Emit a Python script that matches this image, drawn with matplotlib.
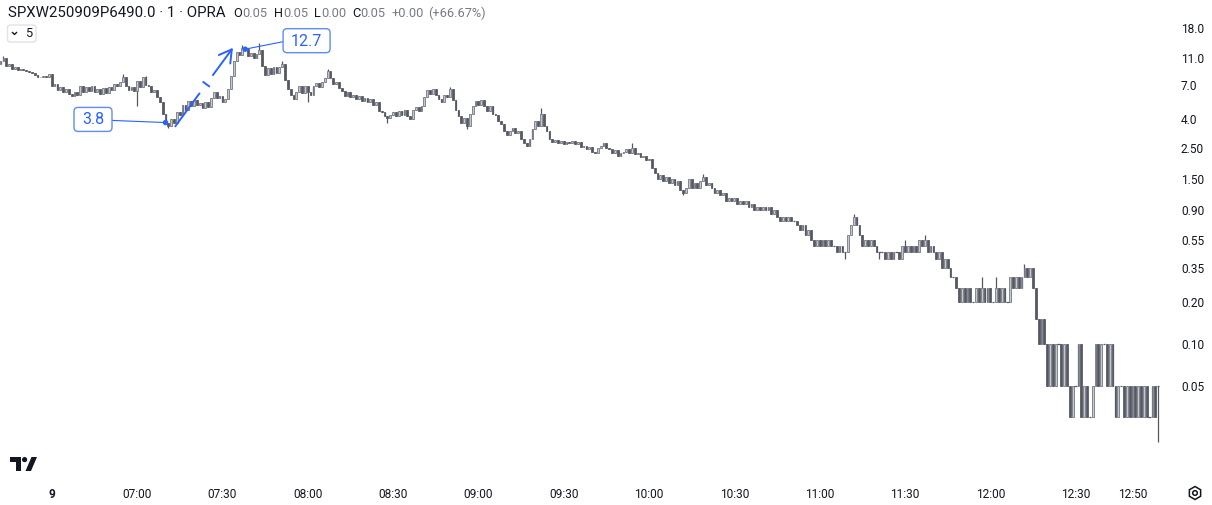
import matplotlib
matplotlib.use('Agg')
import matplotlib.pyplot as plt
from matplotlib.patches import FancyBboxPatch, Polygon, Circle, RegularPolygon, FancyArrowPatch
from matplotlib.ticker import NullLocator
import numpy as np

plt.rcParams['font.family'] = ['Roboto', 'DejaVu Sans']

W, H = 1212, 505

# ---------------- data (1-minute candles, first candle 06:12) ----------------
first_open = 10.0
closes = [
    10.5, 11.0, 9.6, 9.9, 9.2, 9.5, 9.0, 9.1, 9.0, 8.9,
    8.7, 8.6, 8.3, 8.0, 8.1, 8.2, 8.1, 8.5, 6.9, 7.2,
    6.5, 6.8, 6.3, 6.6, 6.1, 5.9, 6.3, 6.0, 6.9, 6.3,
    6.8, 6.4, 6.9, 6.3, 6.6, 6.1, 6.7, 6.2, 6.8, 6.5,
    7.2, 6.9, 7.4, 8.1, 6.9, 6.5, 6.8, 6.4, 7.5, 6.8,
    8.0, 7.1, 6.9, 6.3, 6.5, 5.8, 5.3, 4.4, 3.8, 3.6,
    4.0, 3.8, 4.5, 4.3, 5.1, 4.7, 5.4, 5.0, 5.5, 5.1,
    5.2, 4.8, 5.3, 4.9, 5.7, 6.3, 5.7, 5.9, 5.3, 5.6,
    6.6, 8.2, 10.5, 12.2, 11.6, 13.0, 12.7, 11.3, 11.9, 11.0,
    11.8, 12.6, 9.6, 8.3, 9.3, 8.4, 9.5, 8.6, 9.4, 9.9,
    7.6, 6.6, 6.0, 5.6, 6.3, 6.9, 6.2, 6.9, 6.3, 6.0,
    6.9, 7.3, 6.8, 7.4, 7.9, 8.8, 7.9, 7.2, 7.4, 6.7,
    6.4, 5.9, 6.3, 5.8, 6.0, 5.6, 5.9, 5.4, 5.7, 5.3,
    5.6, 5.1, 5.3, 4.6, 4.5, 4.2, 4.1, 4.3, 4.5, 4.2,
    4.6, 4.3, 4.7, 4.2, 4.0, 4.7, 4.9, 4.6, 5.0, 5.8,
    6.5, 6.1, 6.6, 6.0, 5.6, 5.3, 6.0, 5.8, 6.6, 5.5,
    4.7, 4.2, 3.8, 4.1, 3.6, 4.4, 5.0, 5.4, 5.1, 5.5,
    5.0, 4.6, 5.0, 4.4, 4.3, 3.9, 3.7, 3.3, 3.1, 3.3,
    3.5, 3.2, 3.3, 2.9, 2.7, 2.6, 2.9, 3.4, 3.9, 3.6,
    4.4, 3.6, 3.3, 2.9, 2.75, 2.85, 2.7, 2.8, 2.65, 2.75,
    2.7, 2.8, 2.65, 2.75, 2.55, 2.6, 2.45, 2.55, 2.35, 2.3,
    2.5, 2.6, 2.7, 2.5, 2.45, 2.3, 2.4, 2.2, 2.3, 2.35,
    2.45, 2.3, 2.5, 2.25, 2.3, 2.15, 2.2, 2.05, 2.1, 1.8,
    1.65, 1.5, 1.6, 1.45, 1.55, 1.4, 1.5, 1.35, 1.45, 1.25,
    1.2, 1.3, 1.5, 1.3, 1.4, 1.3, 1.45, 1.55, 1.35, 1.4,
    1.3, 1.2, 1.25, 1.15, 1.2, 1.05, 1.1, 1.05, 1.1, 1.0,
    1.05, 1.0, 1.05, 0.95, 1.0, 0.9, 0.95, 0.9, 0.95, 0.9,
    0.95, 0.85, 0.9, 0.8, 0.75, 0.8, 0.75, 0.8, 0.75, 0.75,
    0.7, 0.65, 0.7, 0.6, 0.65, 0.55, 0.5, 0.55, 0.5, 0.55,
    0.5, 0.55, 0.5, 0.5, 0.45, 0.5, 0.45, 0.45, 0.6, 0.7,
    0.8, 0.7, 0.6, 0.5, 0.55, 0.5, 0.55, 0.5, 0.45, 0.45,
    0.45, 0.4, 0.45, 0.4, 0.45, 0.45, 0.4, 0.5, 0.45, 0.5,
    0.45, 0.5, 0.45, 0.55, 0.5, 0.55, 0.45, 0.5, 0.45, 0.4,
    0.45, 0.35, 0.4, 0.35, 0.3, 0.3, 0.25, 0.2, 0.25, 0.2,
    0.25, 0.2, 0.2, 0.25, 0.2, 0.25, 0.2, 0.25, 0.2, 0.2,
    0.25, 0.2, 0.25, 0.2, 0.2, 0.3, 0.25, 0.3, 0.25, 0.3,
    0.35, 0.3, 0.35, 0.25, 0.15, 0.1, 0.15, 0.1, 0.05, 0.1,
    0.05, 0.1, 0.1, 0.05, 0.1, 0.05, 0.03, 0.05, 0.05, 0.1,
    0.03, 0.05, 0.03, 0.03, 0.05, 0.1, 0.05, 0.1, 0.1, 0.05,
    0.1, 0.05, 0.03, 0.05, 0.05, 0.03, 0.05, 0.03, 0.05, 0.03,
    0.05, 0.03, 0.05, 0.03, 0.03, 0.05, 0.03, 0.05,
]
wick_highs = {1: 11.4, 43: 8.4, 51: 8.2, 85: 13.6, 91: 14.1, 99: 10.4,
              115: 9.1, 158: 6.8, 190: 4.8, 222: 2.7, 247: 1.62, 300: 0.85,
              318: 0.55, 325: 0.6, 345: 0.3, 350: 0.3, 360: 0.37}
wick_lows = {48: 5.0, 59: 3.5, 108: 5.3, 136: 3.8, 164: 3.4, 240: 1.15,
             286: 0.5, 297: 0.4, 309: 0.4, 407: 0.02}
open_overrides = {407: 0.05}
start_minute = -18          # first candle, minutes relative to 06:30

time_ticks = [0, 30, 60, 90, 120, 150, 180, 210, 240, 270, 300, 330, 360, 380]
time_labels = ['9', '07:00', '07:30', '08:00', '08:30', '09:00', '09:30',
               '10:00', '10:30', '11:00', '11:30', '12:00', '12:30', '12:50']
price_ticks = [18.0, 11.0, 7.0, 4.0, 2.5, 1.5, 0.9, 0.55, 0.35, 0.2, 0.1, 0.05]
price_labels = ['18.0', '11.0', '7.0', '4.0', '2.50', '1.50', '0.90', '0.55',
                '0.35', '0.20', '0.10', '0.05']

ann_low = (40, 3.8)          # (minute, price)
ann_high = (68, 12.7)
ann_arrow = ((43.3, 3.54), (63.7, 12.98))
box_low_anchor = (14.5, 4.0)
box_high_anchor = (89.6, 14.6)

# ---------------- derived OHLC ----------------
n = len(closes)
opens = [first_open] + closes[:-1]
for k, v in open_overrides.items():
    opens[k] = v
highs = [max(o, c) for o, c in zip(opens, closes)]
lows = [min(o, c) for o, c in zip(opens, closes)]
for k, v in wick_highs.items():
    highs[k] = max(highs[k], v)
for k, v in wick_lows.items():
    lows[k] = min(lows[k], v)
xs = np.arange(n) + start_minute

DARK = '#555863'
UP_FACE = '#c4c7cf'
UP_EDGE = '#6f727c'
TXT = '#131722'
GREY = '#787b86'
BLUE = '#2962ff'

fig = plt.figure(figsize=(W / 100, H / 100), dpi=100)
fig.patch.set_facecolor('white')
ax = fig.add_axes([0, 30 / H, 1165 / W, 475 / H])
ax.set_yscale('log')
ax.set_ylim(0.01156, 28.5)
ax.set_xlim(-18.2, -18.2 + 1165 / 2.844)
for s in ax.spines.values():
    s.set_visible(False)

ax.vlines(xs, lows, highs, color=DARK, lw=0.9, zorder=2)
bw = 0.62
for x, o, c in zip(xs, opens, closes):
    lo, hi = min(o, c), max(o, c)
    up = c >= o
    fc = UP_FACE if up else DARK
    ec = UP_EDGE if up else DARK
    if hi > lo:
        ax.bar(x, hi - lo, bottom=lo, width=bw, color=fc, edgecolor=ec,
               linewidth=0.55, zorder=3)
    else:
        ax.hlines(c, x - bw / 2 - 0.1, x + bw / 2 + 0.1, color=DARK, lw=0.9, zorder=3)

ax.set_xticks(time_ticks)
ax.set_xticklabels(time_labels)
ax.tick_params(axis='x', length=0, pad=9.5, labelsize=8.6, labelcolor=TXT)
ax.get_xticklabels()[0].set_fontweight('bold')
ax.yaxis.tick_right()
ax.set_yticks(price_ticks)
ax.set_yticklabels(price_labels)
ax.yaxis.set_minor_locator(NullLocator())
ax.tick_params(axis='y', length=0, pad=11.5, labelsize=8.6, labelcolor=TXT)

# ---------------- overlay in pixel coordinates ----------------
ov = fig.add_axes([0, 0, 1, 1])
ov.set_xlim(0, W)
ov.set_ylim(H, 0)
ov.axis('off')
ov.patch.set_alpha(0)


def to_px(m, p):
    dx, dy = ax.transData.transform((m, p))
    return dx, H - dy


# annotations
d1 = to_px(*ann_low)
d2 = to_px(*ann_high)
b1 = to_px(*box_low_anchor)
b2 = to_px(*box_high_anchor)
for (cx, cy), w, label, dot, side in [(b1, 38, '3.8', d1, 'r'), (b2, 47, '12.7', d2, 'l')]:
    hgt = 24
    ov.add_patch(FancyBboxPatch((cx - w / 2, cy - hgt / 2), w, hgt,
                                boxstyle='round,pad=0,rounding_size=4',
                                fc='white', ec='#5d8bf7', lw=1.0, zorder=5))
    ov.text(cx, cy + 0.5, label, ha='center', va='center', fontsize=11.5,
            color=BLUE, zorder=6)
    ex = cx + w / 2 if side == 'r' else cx - w / 2
    ov.plot([ex, dot[0]], [cy + 1, dot[1]], color=BLUE, lw=0.8, zorder=4)
    ov.add_patch(Circle(dot, 2.0, color=BLUE, zorder=6))

a0 = np.array(to_px(*ann_arrow[0]))
a1 = np.array(to_px(*ann_arrow[1]))
vec = a1 - a0
p_a = a0 + vec * 0.43
p_b = a0 + vec * 0.655
ov.plot([a0[0], p_a[0]], [a0[1], p_a[1]], color=BLUE, lw=1.4, zorder=5,
        solid_capstyle='butt')
ov.add_patch(FancyArrowPatch(tuple(p_b), tuple(a1),
                             arrowstyle='->,head_length=0.55,head_width=0.32',
                             mutation_scale=16, color=BLUE, lw=1.4, zorder=5,
                             shrinkA=0, shrinkB=0))
mid = a0 + vec * 0.54
unit = vec / np.linalg.norm(vec)
perp = np.array([-unit[1], unit[0]])
t0, t1 = mid - perp * 3.5, mid + perp * 3.5
ov.plot([t0[0], t1[0]], [t0[1], t1[1]], color=BLUE, lw=1.4, zorder=5)

# header
ov.text(7.5, 17, 'SPXW250909P6490.0 · 1 · OPRA', fontsize=10.85, color=TXT,
        va='baseline', ha='left')
groups = [(233, 'O', '0.05'), (274, 'H', '0.05'), (314, 'L', '0.00'), (352, 'C', '0.05')]
for gx, letter, val in groups:
    t = ov.text(gx, 17, letter, fontsize=9.2, color=TXT, va='baseline', ha='left')
    ov.annotate(val, xy=(1, 0), xycoords=t, xytext=(0.3, 0), textcoords='offset points',
                fontsize=9.2, color=GREY, va='bottom', ha='left')
ov.text(392, 17, '+0.00', fontsize=9.2, color=GREY, va='baseline', ha='left')
ov.text(428, 17, '(+66.67%)', fontsize=9.2, color=GREY, va='baseline', ha='left')

# interval button
ov.add_patch(FancyBboxPatch((7.5, 25), 28.5, 17, boxstyle='round,pad=0,rounding_size=2.5',
                            fc='white', ec='#e0e3eb', lw=1.0, zorder=5))
ov.plot([12.5, 14.5, 16.5], [32.5, 34.5, 32.5], color=TXT, lw=1.0, zorder=6)
ov.text(25.5, 33.8, '5', fontsize=9.2, color=TXT, va='center', ha='left', zorder=6)

# partially visible top price label
ov.text(1181, -3, '30.0', fontsize=8.6, color=TXT, va='center', ha='left')

# TradingView logo
ov.add_patch(Polygon([(10, 457), (21, 457), (21, 471), (16, 471), (16, 462), (10, 462)],
                     closed=True, color='#131722', lw=0))
ov.add_patch(Circle((24.6, 459.6), 2.6, color='#131722', lw=0))
ov.add_patch(Polygon([(25.5, 471), (31, 471), (37, 457), (31.5, 457)],
                     closed=True, color='#131722', lw=0))

# settings gear
ov.add_patch(RegularPolygon((1195, 493), 6, radius=6.5, fill=False, ec=TXT, lw=1.1))
ov.add_patch(Circle((1195, 493), 2.3, fill=False, ec=TXT, lw=1.1))

fig.savefig('out.png', dpi=100, facecolor='white')
